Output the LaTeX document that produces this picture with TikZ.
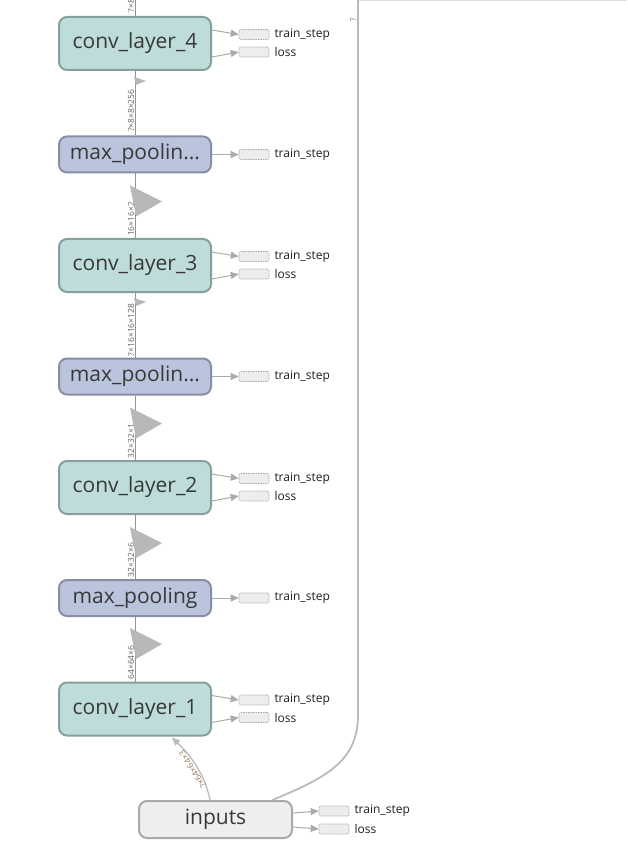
\documentclass[tikz,border=0pt]{standalone}
\usepackage{fontspec}
\setmainfont{Open Sans}
\usetikzlibrary{arrows.meta,calc}
\definecolor{convfill}{HTML}{BEDCDA}
\definecolor{convdraw}{HTML}{87A09E}
\definecolor{poolfill}{HTML}{BAC4DC}
\definecolor{pooldraw}{HTML}{878FA3}
\definecolor{inpfill}{HTML}{EEEEEE}
\definecolor{inpdraw}{HTML}{A9A9A9}
\definecolor{edgegray}{HTML}{BBBBBB}
\definecolor{lblgray}{HTML}{666666}
\definecolor{inlbl}{HTML}{9C7E5C}
\begin{document}
\begin{tikzpicture}[x=1pt,y=-1pt,
  opnode/.style={rounded corners=8pt, line width=2pt, minimum width=152pt, inner sep=0pt, text=black!78, font=\fontsize{21}{21}\selectfont},
  convbox/.style={opnode, fill=convfill, draw=convdraw, minimum height=53pt},
  poolbox/.style={opnode, fill=poolfill, draw=pooldraw, minimum height=36pt},
  inbox/.style={opnode, fill=inpfill, draw=inpdraw, minimum width=153pt, minimum height=37pt},
  outbox/.style={draw=black!35, dash pattern=on 1.5pt off 1pt, fill=black!7, rounded corners=2pt, minimum width=30pt, minimum height=10pt, inner sep=0pt, line width=0.6pt},
  outtext/.style={anchor=west, inner sep=0pt, font=\fontsize{12}{12}\selectfont, text=black!88},
  flow/.style={draw=black!42, line width=1pt},
  bigflow/.style={draw=edgegray, line width=1.8pt},
  outarrow/.style={draw=black!33, line width=1pt, -{Triangle[length=8pt,width=7pt]}},
  shapelbl/.style={sloped, allow upside down, anchor=south west, inner xsep=3pt, inner ysep=0.3pt, font=\fontsize{8.5}{8.5}\selectfont, text=lblgray},
  tri/.style={fill=black!28},
]
\useasboundingbox (0,0) rectangle (627,858);
\fill[white] (0,0) rectangle (627,858);
\draw[black!12, line width=1pt] (359,0.5) -- (627,0.5);

% main nodes
\node[convbox] (c4) at (135,43.5) {conv\_layer\_4};
\node[poolbox] (mp3) at (135,154.5) {max\_poolin...};
\node[convbox] (c3) at (135,265.5) {conv\_layer\_3};
\node[poolbox] (mp2) at (135,376.5) {max\_poolin...};
\node[convbox] (c2) at (135,487.5) {conv\_layer\_2};
\node[poolbox] (mp1) at (135,598) {max\_pooling};
\node[convbox] (c1) at (135,709) {conv\_layer\_1};
\node[inbox] (inp) at (215.5,819.5) {inputs};

\coordinate (top4) at (135,-2);
\coordinate (topR) at (358,-2);

% vertical flow edges
\draw[flow] (c4.north) -- node[pos=0, shapelbl] {?×8×8×512} (top4);
\draw[flow] (mp3.north) -- node[pos=0, shapelbl] {?×8×8×256} (c4.south);
\draw[flow] (c3.north) -- node[pos=0, shapelbl, inner xsep=1.5pt] {16×16×2} (mp3.south);
\draw[flow] (mp2.north) -- node[pos=0, shapelbl, inner xsep=1pt] {?×16×16×128} (c3.south);
\draw[flow] (c2.north) -- node[pos=0, shapelbl, inner xsep=1.5pt] {32×32×1} (mp2.south);
\draw[flow] (mp1.north) -- node[pos=0, shapelbl, inner xsep=1.5pt] {32×32×6} (c2.south);
\draw[flow] (c1.north) -- node[pos=0, shapelbl, inner xsep=1.5pt] {64×64×6} (mp1.south);

% arrowheads (as rendered)
\fill[tri] ($(c4.south)+(-1,6)$) -- ++(12,4) -- ++(-10,4) -- cycle;
\fill[tri] ($(mp3.south)+(-5,12)$) -- ++(32,16) -- ++(-26,15) -- cycle;
\fill[tri] ($(c3.south)+(-1,5)$) -- ++(12,4) -- ++(-10,4) -- cycle;
\fill[tri] ($(mp2.south)+(-5,12)$) -- ++(32,16) -- ++(-26,15) -- cycle;
\fill[tri] ($(c2.south)+(-5,12)$) -- ++(32,16) -- ++(-26,15) -- cycle;
\fill[tri] ($(mp1.south)+(-5,11)$) -- ++(32,16) -- ++(-26,15) -- cycle;

% inputs edges
\draw[flow, draw=edgegray, line width=1.3pt, -{Triangle[length=8pt,width=7pt]}]
  ($(inp.north)+(-5.5,0)$) .. controls (205,775) and (192,757) .. ($(c1.south)+(37,1)$)
  node[pos=0.5, sloped, allow upside down, anchor=south, inner sep=1pt, font=\fontsize{8.5}{8.5}\selectfont, text=inlbl] {?×64×64×3};
\draw[bigflow] ($(inp.north)+(57,0)$) .. controls (325,778) and (358,762) .. (358,715)
  -- node[pos=0.97, sloped, allow upside down, anchor=south, inner sep=1pt, font=\fontsize{8}{8}\selectfont, text=lblgray] {?} (topR);

% output boxes
\node[outbox] (c4a) at (254,34.5) {};
\node[outbox] (c4b) at (254,52) {};
\node[outbox] (mp3a) at (254,154.5) {};
\node[outbox] (c3a) at (254,256.5) {};
\node[outbox] (c3b) at (254,274) {};
\node[outbox] (mp2a) at (254,376.5) {};
\node[outbox] (c2a) at (254,478.5) {};
\node[outbox] (c2b) at (254,496) {};
\node[outbox] (mp1a) at (254,598) {};
\node[outbox] (c1a) at (254,700) {};
\node[outbox] (c1b) at (254,717.5) {};
\node[outbox] (inpa) at (334,811) {};
\node[outbox] (inpb) at (334,829) {};

\node[outtext] (c4at) at ($(c4a.east)+(5,0)$) {train\_step};
\node[outtext] (c4bt) at ($(c4b.east)+(5,0)$) {loss};
\node[outtext] (mp3at) at ($(mp3a.east)+(5,0)$) {train\_step};
\node[outtext] (c3at) at ($(c3a.east)+(5,0)$) {train\_step};
\node[outtext] (c3bt) at ($(c3b.east)+(5,0)$) {loss};
\node[outtext] (mp2at) at ($(mp2a.east)+(5,0)$) {train\_step};
\node[outtext] (c2at) at ($(c2a.east)+(5,0)$) {train\_step};
\node[outtext] (c2bt) at ($(c2b.east)+(5,0)$) {loss};
\node[outtext] (mp1at) at ($(mp1a.east)+(5,0)$) {train\_step};
\node[outtext] (c1at) at ($(c1a.east)+(5,0)$) {train\_step};
\node[outtext] (c1bt) at ($(c1b.east)+(5,0)$) {loss};
\node[outtext] (inpat) at ($(inpa.east)+(5,0)$) {train\_step};
\node[outtext] (inpbt) at ($(inpb.east)+(5,0)$) {loss};

\draw[outarrow] ($(c4.east)+(0,-13.5)$) -- (c4a.west);
\draw[outarrow] ($(c4.east)+(0,13.5)$) -- (c4b.west);
\draw[outarrow] (mp3.east) -- (mp3a.west);
\draw[outarrow] ($(c3.east)+(0,-13.5)$) -- (c3a.west);
\draw[outarrow] ($(c3.east)+(0,13.5)$) -- (c3b.west);
\draw[outarrow] (mp2.east) -- (mp2a.west);
\draw[outarrow] ($(c2.east)+(0,-13.5)$) -- (c2a.west);
\draw[outarrow] ($(c2.east)+(0,13.5)$) -- (c2b.west);
\draw[outarrow] (mp1.east) -- (mp1a.west);
\draw[outarrow] ($(c1.east)+(0,-13.5)$) -- (c1a.west);
\draw[outarrow] ($(c1.east)+(0,13.5)$) -- (c1b.west);
\draw[outarrow] ($(inp.east)+(0,-6.5)$) -- (inpa.west);
\draw[outarrow] ($(inp.east)+(0,7.5)$) -- (inpb.west);
\end{tikzpicture}
\end{document}
